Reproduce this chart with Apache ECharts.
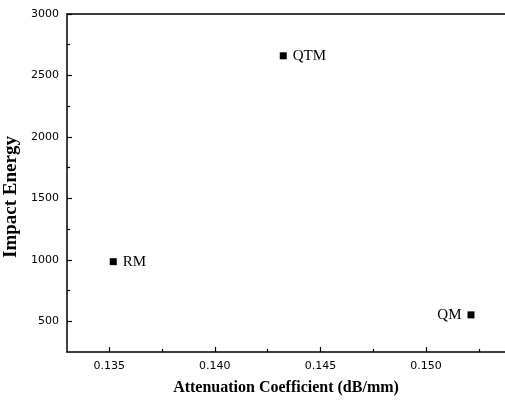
<!DOCTYPE html>
<html>
<head>
<meta charset="utf-8">
<script src="https://cdn.jsdelivr.net/npm/echarts@6/dist/echarts.min.js"></script>
<style>html,body{margin:0;padding:0;background:#fff;}#c{width:505px;height:403px;}</style>
</head>
<body>
<div id="c"></div>
<script>
var names = ['RM', 'QTM', 'QM'];
var attenuation = [0.13519, 0.14324, 0.15213];
var impactEnergy = [985, 2660, 552];
var labelPositions = ['right', 'right', 'left'];
var xMajorTicks = [0.135, 0.140, 0.145, 0.150];
var xMinorTicks = [0.1375, 0.1425, 0.1475, 0.1525];
var yMajorTicks = [500, 1000, 1500, 2000, 2500, 3000];
var yMinorTicks = [750, 1250, 1750, 2250, 2750];

var chart = echarts.init(document.getElementById('c'), null, {renderer: 'canvas'});
var data = names.map(function (n, i) {
  return {
    name: n,
    value: [attenuation[i], impactEnergy[i]],
    label: {position: labelPositions[i]}
  };
});
var XMIN = 0.133, XMAX = 0.15374, YMIN = 250, YMAX = 3000;
var lineStyle = {color: '#000', width: 1.5};
var serif = 'Liberation Serif';
var option = {
  animation: false,
  backgroundColor: '#fff',
  grid: {left: 67, right: 0, top: 14, bottom: 51, containLabel: false, outerBoundsMode: 'none'},
  xAxis: [
    {
      type: 'value', min: XMIN, max: XMAX, position: 'bottom',
      axisLine: {show: true, lineStyle: lineStyle},
      axisTick: {show: true, inside: true, length: 5, customValues: xMajorTicks, lineStyle: {color: '#000', width: 1.2}},
      axisLabel: {show: true, customValues: xMajorTicks, margin: 9, color: '#000', fontFamily: 'DejaVu Sans', fontSize: 11,
        formatter: function (v) { return v.toFixed(3); }},
      splitLine: {show: false},
      name: 'Attenuation Coefficient (dB/mm)', nameLocation: 'middle', nameGap: 28,
      nameTextStyle: {fontFamily: serif, fontWeight: 'bold', fontSize: 16, color: '#000'}
    },
    {
      type: 'value', min: XMIN, max: XMAX, position: 'bottom',
      axisLine: {show: false},
      axisTick: {show: true, inside: true, length: 3, customValues: xMinorTicks, lineStyle: {color: '#000', width: 1.2}},
      axisLabel: {show: false}, splitLine: {show: false}
    },
    {
      type: 'value', min: XMIN, max: XMAX, position: 'top',
      axisLine: {show: true, lineStyle: lineStyle},
      axisTick: {show: false}, axisLabel: {show: false}, splitLine: {show: false}
    }
  ],
  yAxis: [
    {
      type: 'value', min: YMIN, max: YMAX, position: 'left',
      axisLine: {show: true, lineStyle: lineStyle},
      axisTick: {show: true, inside: true, length: 5, customValues: yMajorTicks, lineStyle: {color: '#000', width: 1.2}},
      axisLabel: {show: true, customValues: yMajorTicks, margin: 8, color: '#000', fontFamily: 'DejaVu Sans', fontSize: 11,
        formatter: function (v) { return String(v); }},
      splitLine: {show: false},
      name: 'Impact Energy', nameLocation: 'middle', nameGap: 46,
      nameTextStyle: {fontFamily: serif, fontWeight: 'bold', fontSize: 19, color: '#000', padding: [0, 28, 0, 0]}
    },
    {
      type: 'value', min: YMIN, max: YMAX, position: 'left',
      axisLine: {show: false},
      axisTick: {show: true, inside: true, length: 3, customValues: yMinorTicks, lineStyle: {color: '#000', width: 1.2}},
      axisLabel: {show: false}, splitLine: {show: false}
    }
  ],
  series: [{
    type: 'scatter',
    xAxisIndex: 0, yAxisIndex: 0,
    symbol: 'rect', symbolSize: 7,
    itemStyle: {color: '#000', opacity: 1},
    label: {show: true, formatter: '{b}', distance: 6, color: '#000', fontFamily: serif, fontSize: 15},
    data: data
  }]
};
chart.setOption(option);
</script>
</body>
</html>
